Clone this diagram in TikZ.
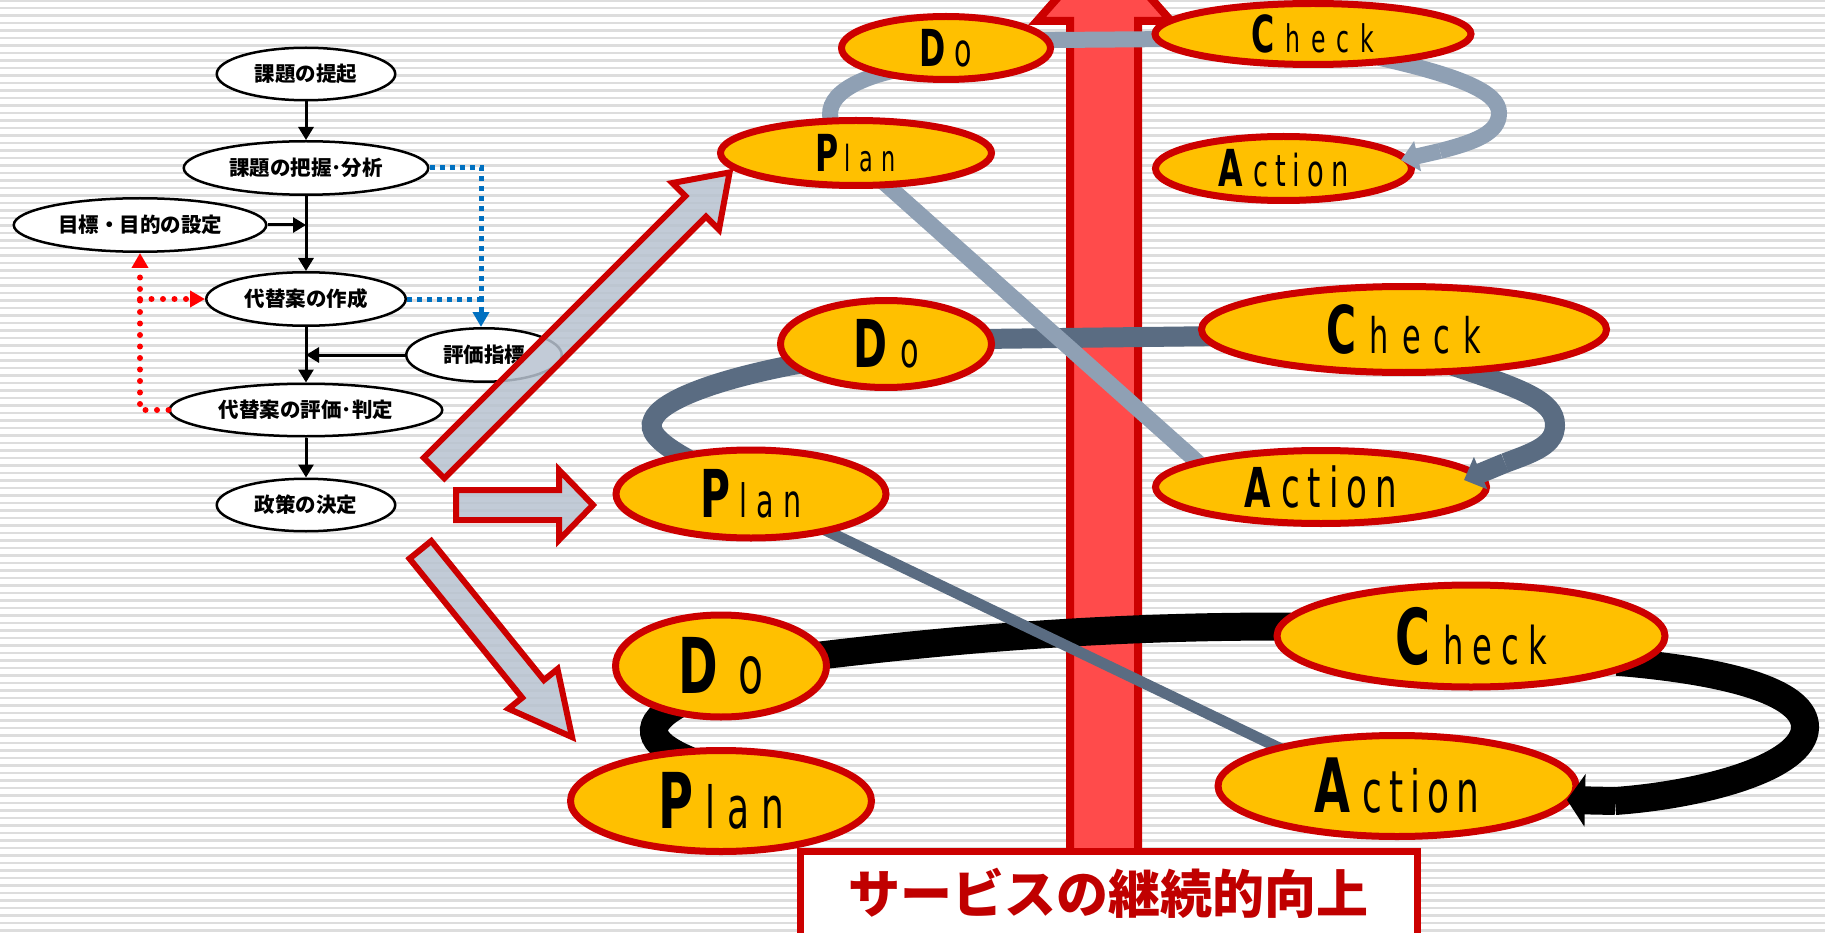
\documentclass[tikz,border=0pt]{standalone}
\usepackage{fontspec}
\usetikzlibrary{arrows.meta,shapes.geometric}
\newfontfamily\jpfont{Noto Sans CJK JP}
\newfontfamily\pdfont{DejaVu Sans}[FakeStretch=0.62]
\definecolor{stripec}{HTML}{DDDDDD}
\definecolor{darkred}{HTML}{CC0000}
\definecolor{arrowred}{HTML}{FF4B4B}
\definecolor{gold}{HTML}{FFC000}
\definecolor{slatel}{HTML}{8FA0B4}
\definecolor{slated}{HTML}{5A6C82}
\definecolor{hatchc}{HTML}{B8C3D0}
\definecolor{fcblue}{HTML}{0070C0}
\definecolor{titlered}{HTML}{C00000}
% capital, rest, cap size, lower size, kern after capital, letter gap
\newcommand\pw[6]{{\pdfont\bfseries\fontsize{#3}{#3}\selectfont #1}\kern#5pt{\pdfont\fontsize{#4}{#4}\selectfont\def\pwg{#6pt}\pwloop#2\relax}}
\def\pwloop#1#2{#1\ifx\relax#2\else\kern\pwg\expandafter\pwloop\expandafter#2\fi}
\begin{document}
\begin{tikzpicture}[x=1pt,y=-1pt,
  fcnode/.style={ellipse, draw=black, line width=2.5pt, fill=white, inner sep=0pt, font=\jpfont\bfseries\fontsize{20.5}{24}\selectfont},
  fcline/.style={line width=3pt, draw=black},
  fcarrow/.style={fcline, -{Triangle[width=15pt,length=13pt]}},
  bluedot/.style={draw=fcblue, line width=5pt, dash pattern=on 5pt off 5pt},
  bluetip/.style={bluedot, -{Triangle[width=16pt,length=15pt]}},
  reddot/.style={draw=red, line width=6pt, line cap=round, dash pattern=on 0pt off 11.5pt},
  redtip/.style={reddot, -{Triangle[width=16pt,length=15pt]}},
  stripe/.style={draw=stripec, line width=2.2pt},
  bigarrow/.style={draw=darkred, line width=8pt, fill=arrowred, line join=miter},
  hatcharrow/.style={draw=darkred, line width=6pt, fill=hatchc, fill opacity=0.85, line join=miter},
  pdca/.style={ellipse, draw=darkred, line width=7pt, fill=gold, inner sep=0pt, text=black},
  conA/.style={draw=slatel, line width=16pt},
  conB/.style={draw=slated, line width=20pt},
  conD/.style={draw=slated, line width=11pt},
  conC/.style={draw=black, line width=28pt},
  titlebox/.style={draw=darkred, line width=7pt, fill=white, inner sep=0pt},
  titletext/.style={text=titlered, font=\jpfont\bfseries\fontsize{52}{60}\selectfont, inner sep=0pt}
]
\useasboundingbox (0,0) rectangle (1825,933);
\clip (0,0) rectangle (1825,933);
\fill[white] (0,0) rectangle (1825,933);
\foreach \k in {0,...,124} \draw[stripe] (0,{0.5+7.5*\k}) -- (1825,{0.5+7.5*\k});

% ---------- flowchart ----------
\node[fcnode, minimum width=178.5pt, minimum height=52.5pt] (K1) at (306,74) {課題の提起};
\node[fcnode, minimum width=244.5pt, minimum height=53.5pt] (K2) at (306,168) {課題の把握･分析};
\node[fcnode, minimum width=252.5pt, minimum height=53.5pt] (G) at (140,225) {目標・目的の設定};
\node[fcnode, minimum width=199.5pt, minimum height=53.5pt] (K3) at (306,299) {代替案の作成};
\node[fcnode, minimum width=155.5pt, minimum height=53.5pt] (H) at (484,355) {評価指標};
\node[fcnode, minimum width=272.5pt, minimum height=52.5pt] (K5) at (306,410) {代替案の評価･判定};
\node[fcnode, minimum width=178.5pt, minimum height=52.5pt] (K6) at (306,505) {政策の決定};
\coordinate (hn) at ([xshift=-3pt]H.north);

\draw[fcarrow] (K1.south) -- (K2.north);
\draw[fcarrow] (K2.south) -- (K3.north);
\draw[fcarrow] (G.east) -- (G.east -| K3.north);
\draw[fcarrow] (K3.south) -- (K5.north);
\draw[fcarrow] (H.west) -- (H.west -| K3.south);
\draw[fcarrow] (K5.south) -- (K6.north);

\draw[bluetip] (K2.east) -| (hn);
\draw[bluedot] (K3.east) -- (K3.east -| hn);
\draw[redtip] (K5.west) -| (G.south);
\draw[redtip] (G.south |- K3.west) -- (K3.west);

% ---------- central red arrow ----------
\draw[bigarrow] (1070,880) -- (1070,21) -- (1037,21) -- (1104,-55) -- (1171,21) -- (1138,21) -- (1138,880) -- cycle;

% ---------- title box ----------
\node[titlebox, minimum width=617pt, minimum height=120pt, anchor=north west] (tbox) at (797,848) {};
\node[titletext] (title) at (1108,893) {サービスの継続的向上};

\coordinate (a1b) at (1440,151);
\coordinate (a1t) at (1401,160);
\coordinate (a2b) at (1505,463);
\coordinate (a2t) at (1464,480);
\coordinate (a3b) at (1615,801);
\coordinate (a3t) at (1567,800);

% anchor shapes for the PDCA ellipses (anchors lie a little inside the borders)
\begin{scope}[every node/.style={pdca, draw=none, fill=none, outer sep=-9pt}]
\node[minimum width=209pt, minimum height=63pt] (D1) at (946,48) {};
\node[minimum width=316pt, minimum height=61pt] (C1) at (1313,34) {};
\node[minimum width=256pt, minimum height=64pt] (A1) at (1283.5,168.5) {};
\node[minimum width=271pt, minimum height=65pt] (P1) at (856,153) {};
\node[minimum width=211pt, minimum height=87pt] (D2) at (886,344) {};
\node[minimum width=405pt, minimum height=86pt] (C2) at (1404,329.5) {};
\node[minimum width=331pt, minimum height=73pt] (A2) at (1321,487) {};
\node[minimum width=270pt, minimum height=88pt] (P2) at (751,494) {};
\node[minimum width=211pt, minimum height=102pt] (D3) at (721,666) {};
\node[minimum width=301pt, minimum height=101pt] (P3) at (721,801) {};
\node[minimum width=388pt, minimum height=102pt] (C3) at (1471,636) {};
\node[minimum width=358pt, minimum height=101pt] (A3) at (1397,786) {};
\end{scope}

% ---------- connectors ----------
\draw[conA] (P1.132) .. controls (818,102) and (845,80) .. (D1.206);
\draw[conA] (D1.5) -- (C1.182);
\draw[conA] (C1.-22) .. controls (1460,75) and (1499,92) .. (1499,113) .. controls (1499,133) and (1475,142) .. (a1b);
\draw[conB] (P2.151) .. controls (655,442) and (648,430) .. (653,420) .. controls (660,400) and (720,378) .. (D2.193);
\draw[conB] (D2.3) -- (C2.182);
\draw[conB] (C2.-40) .. controls (1520,388) and (1555,400) .. (1555,425) .. controls (1555,445) and (1535,452) .. (a2b);
\draw[conC] (P3.128) .. controls (645,742) and (643,724) .. (D3.222);
\draw[conC] (D3.6) .. controls (950,640) and (1100,626) .. (C3.177);
\draw[conC] (C3.-10) .. controls (1740,672) and (1805,695) .. (1805,727) .. controls (1805,768) and (1700,795) .. (a3b);
\draw[conA] (P1.-48) -- (A2.171);
\draw[conD] (P2.-26) -- (A3.163);

% ---------- hatched arrows ----------
\begin{scope}[shift={(434,468)},rotate=45]
\draw[hatcharrow] (0,-14.5) -- (370,-14.5) -- (370,-33) -- (418,0) -- (370,33) -- (370,14.5) -- (0,14.5) -- cycle;
\end{scope}
\begin{scope}[shift={(456,505)}]
\draw[hatcharrow] (0,-15) -- (103,-15) -- (103,-35) -- (137,0) -- (103,35) -- (103,15) -- (0,15) -- cycle;
\end{scope}
\begin{scope}[shift={(420.4,549.8)},rotate=-51]
\draw[hatcharrow] (0,-14) -- (179,-14) -- (179,-31.5) -- (241,0) -- (179,31.5) -- (179,14) -- (0,14) -- cycle;
\end{scope}

% ---------- PDCA ellipses drawn ----------
\node[pdca, minimum width=209pt, minimum height=63pt] (D1s) at (D1) {\pw{D}{o}{51}{46}{9}{0}};
\node[pdca, minimum width=316pt, minimum height=61pt] (C1s) at (C1) {\pw{C}{heck}{51}{38}{10}{11}};
\node[pdca, minimum width=256pt, minimum height=64pt] (A1s) at (A1) {\pw{A}{ction}{51}{44}{10}{7}};
\node[pdca, minimum width=271pt, minimum height=65pt] (P1s) at (P1) {\pw{P}{lan}{51}{36}{5}{9}};
\node[pdca, minimum width=211pt, minimum height=87pt] (D2s) at (D2) {\pw{D}{o}{66}{49}{13}{0}};
\node[pdca, minimum width=405pt, minimum height=86pt] (C2s) at (C2) {\pw{C}{heck}{66}{49}{13}{13}};
\node[pdca, minimum width=331pt, minimum height=73pt] (A2s) at (A2) {\pw{A}{ction}{55}{55}{10}{8}};
\node[pdca, minimum width=270pt, minimum height=88pt] (P2s) at (P2) {\pw{P}{lan}{66}{46}{9}{9}};
\node[pdca, minimum width=211pt, minimum height=102pt] (D3s) at (D3) {\pw{D}{o}{77}{66}{20}{0}};
\node[pdca, minimum width=301pt, minimum height=101pt] (P3s) at (P3) {\pw{P}{lan}{77}{58}{12}{12}};
\node[pdca, minimum width=388pt, minimum height=102pt] (C3s) at (C3) {\pw{C}{heck}{77}{52}{13}{9}};
\node[pdca, minimum width=358pt, minimum height=101pt] (A3s) at (A3) {\pw{A}{ction}{75}{58}{12}{7}};

% ---------- arrow ends ----------
\draw[conA, -{Triangle[width=30pt,length=17pt]}] (a1b) -- (a1t);
\draw[conB, -{Triangle[width=34pt,length=18pt]}] (a2b) -- (a2t);
\draw[conC, -{Triangle[width=52pt,length=18pt]}] (a3b) -- (a3t);
\end{tikzpicture}
\end{document}
